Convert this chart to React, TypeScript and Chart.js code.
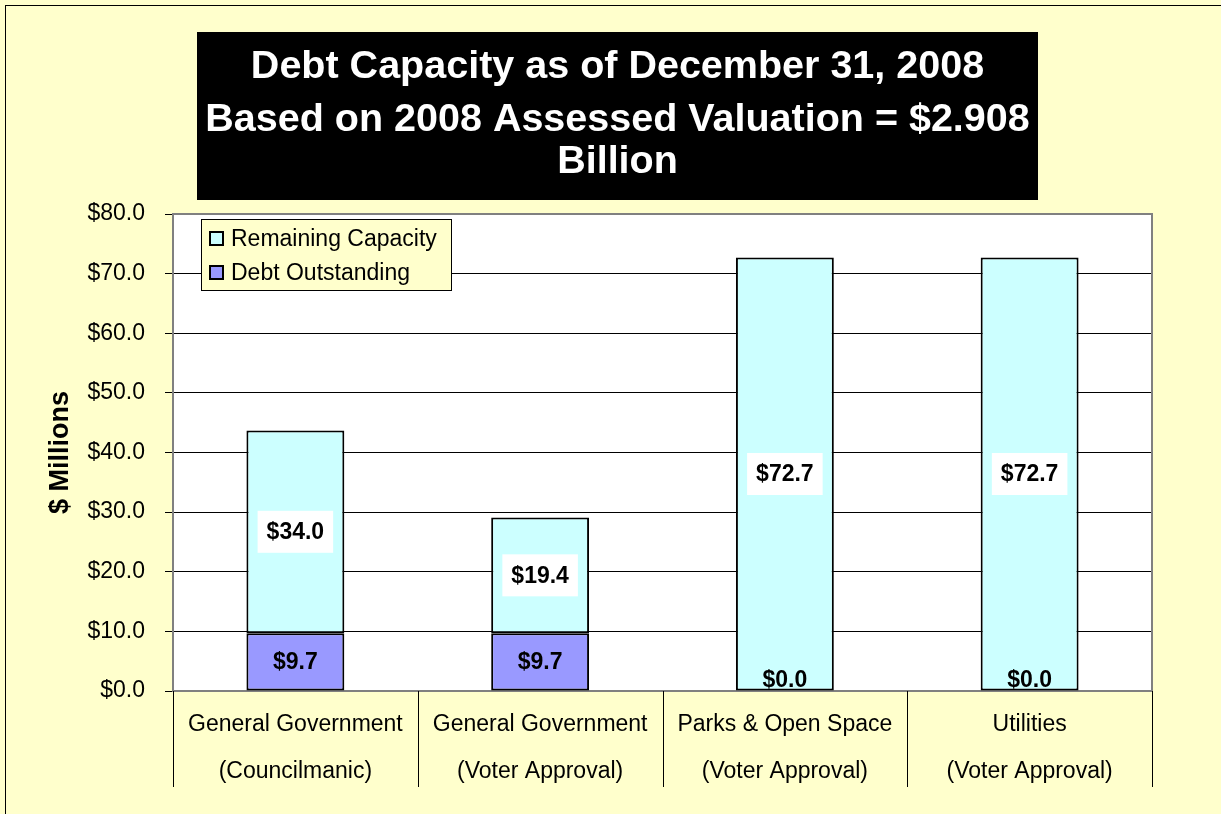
import React, { useEffect, useRef } from "react";
import { Chart, registerables } from "chart.js";

Chart.register(...registerables);

const categories: string[][] = [
  ["General Government", "(Councilmanic)"],
  ["General Government", "(Voter Approval)"],
  ["Parks & Open Space", "(Voter Approval)"],
  ["Utilities", "(Voter Approval)"],
];
const debtOutstanding = [9.7, 9.7, 0.0, 0.0];
const remainingCapacity = [34.0, 19.4, 72.7, 72.7];
const seriesNames = ["Debt Outstanding", "Remaining Capacity"];
const titleLines = [
  "Debt Capacity as of December 31, 2008",
  "Based on 2008 Assessed Valuation = $2.908",
  "Billion",
];
const yTitle = "$ Millions";
const yMin = 0;
const yMax = 80;
const yStep = 10;

const FONT = "Arial, 'Liberation Sans', sans-serif";
const BG = "#FFFFCC";
const DEBT_COLOR = "#9999FF";
const REM_COLOR = "#CCFFFF";

const fmt = (v: number) => "$" + v.toFixed(1);

const decorPlugin = {
  id: "decor",
  beforeDraw(chart: any) {
    const ctx = chart.ctx;
    const { left, right, top, bottom } = chart.chartArea;
    ctx.save();
    ctx.fillStyle = BG;
    ctx.fillRect(0, 0, chart.width, chart.height);
    ctx.strokeStyle = "#000";
    ctx.lineWidth = 1;
    ctx.strokeRect(5.5, 5.5, chart.width + 50, chart.height + 50);
    // plot area
    ctx.fillStyle = "#FFFFFF";
    ctx.fillRect(left, top, right - left, bottom - top);
    // title box
    ctx.fillStyle = "#000";
    ctx.fillRect(197, 32, 841, 168);
    ctx.fillStyle = "#FFFFFF";
    ctx.font = `bold 39.5px ${FONT}`;
    ctx.textAlign = "center";
    ctx.textBaseline = "alphabetic";
    const baselines = [78, 131, 173];
    titleLines.forEach((t, i) => ctx.fillText(t, 617.5, baselines[i]));
    ctx.restore();
  },
  beforeDatasetsDraw(chart: any) {
    const ctx = chart.ctx;
    const { left, right, top, bottom } = chart.chartArea;
    ctx.save();
    ctx.strokeStyle = "#808080";
    ctx.lineWidth = 2;
    ctx.strokeRect(left, top, right - left, bottom - top);
    // category separators below the axis
    const n = categories.length;
    const w = (right - left) / n;
    ctx.strokeStyle = "#000";
    ctx.lineWidth = 1;
    for (let i = 0; i <= n; i++) {
      const px = Math.round(left + i * w) + 0.5;
      ctx.beginPath();
      ctx.moveTo(px, bottom);
      ctx.lineTo(px, bottom + 96);
      ctx.stroke();
    }
    ctx.restore();
  },
  afterDatasetsDraw(chart: any) {
    const ctx = chart.ctx;
    ctx.save();
    ctx.font = `bold 23px ${FONT}`;
    ctx.textAlign = "center";
    ctx.textBaseline = "middle";
    chart.data.datasets.forEach((ds: any, di: number) => {
      const meta = chart.getDatasetMeta(di);
      meta.data.forEach((bar: any, i: number) => {
        const v = ds.data[i];
        const txt = fmt(v);
        let cy = (bar.y + bar.base) / 2;
        cy = Math.min(cy, bar.base - 11);
        const cx = bar.x;
        if (di === 1) {
          const tw = ctx.measureText(txt).width;
          ctx.fillStyle = "#FFFFFF";
          ctx.fillRect(cx - tw / 2 - 9, cy - 21, tw + 18, 42);
        }
        ctx.fillStyle = "#000";
        ctx.fillText(txt, cx, cy + 1);
      });
    });
    ctx.restore();
  },
  afterDraw(chart: any) {
    const ctx = chart.ctx;
    ctx.save();
    // legend box
    const lx = 201, ly = 219, lw = 250, lh = 71;
    ctx.fillStyle = BG;
    ctx.fillRect(lx, ly, lw, lh);
    ctx.strokeStyle = "#000";
    ctx.lineWidth = 1;
    ctx.strokeRect(lx + 0.5, ly + 0.5, lw, lh);
    const items = [
      { label: seriesNames[1], color: REM_COLOR, cy: 239 },
      { label: seriesNames[0], color: DEBT_COLOR, cy: 273 },
    ];
    ctx.font = `23px ${FONT}`;
    ctx.textBaseline = "middle";
    ctx.textAlign = "left";
    items.forEach((it) => {
      ctx.fillStyle = it.color;
      ctx.fillRect(210, it.cy - 7, 13, 13);
      ctx.strokeStyle = "#000";
      ctx.lineWidth = 2;
      ctx.strokeRect(210, it.cy - 7, 13, 13);
      ctx.fillStyle = "#000";
      ctx.fillText(it.label, 231, it.cy + 1);
    });
    ctx.restore();
  },
};

export default function App() {
  const ref = useRef<HTMLCanvasElement | null>(null);
  useEffect(() => {
    if (!ref.current) return;
    const chart = new Chart(ref.current, {
      type: "bar",
      data: {
        labels: categories,
        datasets: [
          {
            label: seriesNames[0],
            data: debtOutstanding,
            backgroundColor: DEBT_COLOR,
            borderColor: "#000",
            borderWidth: 2,
            borderSkipped: false,
            barPercentage: 0.4,
            categoryPercentage: 1,
          },
          {
            label: seriesNames[1],
            data: remainingCapacity,
            backgroundColor: REM_COLOR,
            borderColor: "#000",
            borderWidth: 2,
            borderSkipped: false,
            barPercentage: 0.4,
            categoryPercentage: 1,
          },
        ],
      },
      options: {
        responsive: false,
        animation: false,
        devicePixelRatio: 1,
        layout: { padding: { top: 214, right: 69, bottom: 0, left: 0 } },
        plugins: {
          legend: { display: false },
          tooltip: { enabled: false },
          title: { display: false },
        },
        scales: {
          x: {
            stacked: true,
            grid: { display: false, drawTicks: false },
            border: { display: true, color: "#333", width: 2 },
            ticks: {
              color: "#000",
              font: { family: FONT, size: 23, lineHeight: "47px" },
              padding: 10,
              maxRotation: 0,
              autoSkip: false,
            },
            afterFit: (s: any) => {
              s.height = 123;
            },
          },
          y: {
            stacked: true,
            min: yMin,
            max: yMax,
            grid: { color: "#000", lineWidth: 1, tickLength: 8, drawTicks: true },
            border: { display: true, color: "#555", width: 2 },
            ticks: {
              stepSize: yStep,
              color: "#000",
              font: { family: FONT, size: 23 },
              padding: 20,
              callback: (v: any) => fmt(Number(v)),
            },
            title: {
              display: true,
              text: yTitle,
              color: "#000",
              font: { family: FONT, size: 27, weight: "bold" },
              padding: { top: 44, bottom: 0 },
            },
            afterFit: (s: any) => {
              s.width = 173;
            },
          },
        },
      },
      plugins: [decorPlugin],
    });
    return () => chart.destroy();
  }, []);
  return (
    <canvas
      ref={ref}
      width={1221}
      height={814}
      style={{ position: "fixed", left: 0, top: 0, width: 1221, height: 814 }}
    />
  );
}
